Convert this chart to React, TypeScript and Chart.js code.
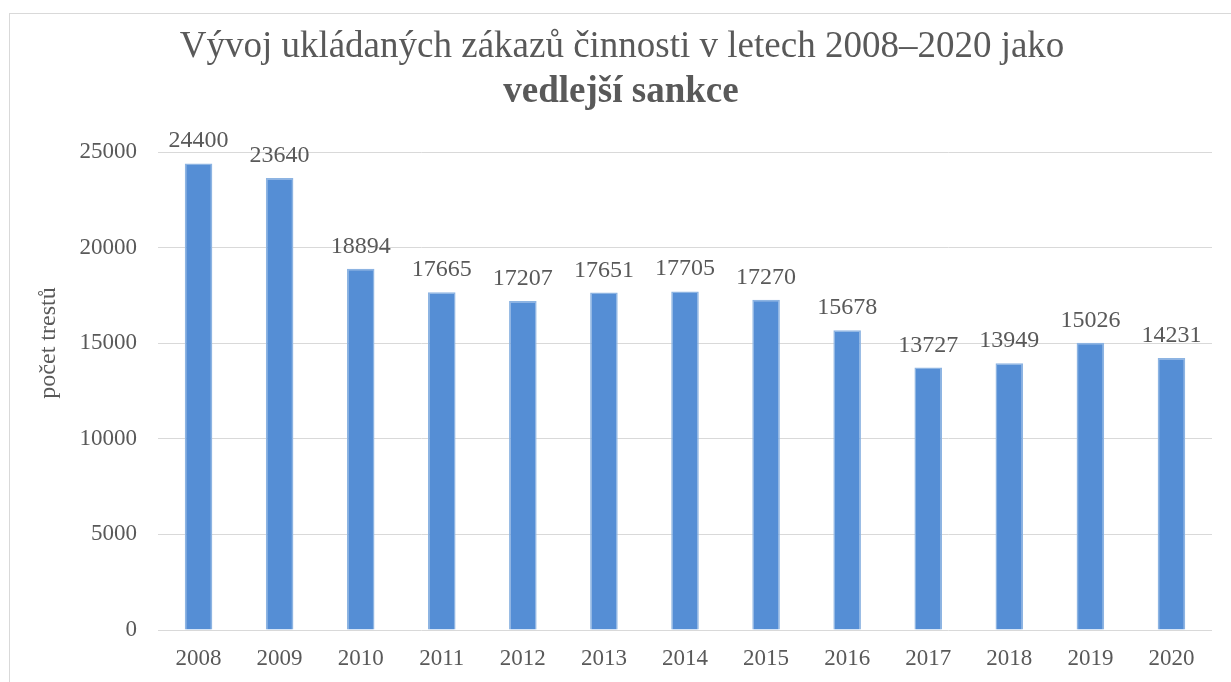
import React, { useEffect, useRef } from "react";
import { Chart, registerables } from "chart.js";

Chart.register(...registerables);

const years = ["2008", "2009", "2010", "2011", "2012", "2013", "2014", "2015", "2016", "2017", "2018", "2019", "2020"];
const values = [24400, 23640, 18894, 17665, 17207, 17651, 17705, 17270, 15678, 13727, 13949, 15026, 14231];
const yTicks = [0, 5000, 10000, 15000, 20000, 25000];
const titleLine1 = "Vývoj ukládaných zákazů činnosti v letech 2008–2020 jako";
const titleLine2 = "vedlejší sankce";
const yTitle = "počet trestů";

const FONT = "'Liberation Serif', 'Times New Roman', serif";
const TEXT = "#595959";
const GRID = "#d9d9d9";

const decorPlugin = {
  id: "decor",
  beforeDraw(chart: any) {
    const ctx = chart.ctx;
    ctx.save();
    ctx.fillStyle = "#ffffff";
    ctx.fillRect(0, 0, chart.width, chart.height);
    ctx.strokeStyle = GRID;
    ctx.lineWidth = 1;
    ctx.strokeRect(9.5, 13.5, chart.width + 20, chart.height + 20);
    ctx.restore();
  },
  afterDraw(chart: any) {
    const ctx = chart.ctx;
    ctx.save();
    ctx.fillStyle = TEXT;
    ctx.textAlign = "center";
    ctx.textBaseline = "alphabetic";
    ctx.font = `37px ${FONT}`;
    ctx.fillText(titleLine1, 622, 57);
    ctx.font = `bold 37px ${FONT}`;
    ctx.fillText(titleLine2, 621, 102);

    ctx.translate(49, 343);
    ctx.rotate(-Math.PI / 2);
    ctx.textBaseline = "middle";
    ctx.font = `24px ${FONT}`;
    ctx.fillText(yTitle, 0, 0);
    ctx.restore();
  },
  afterDatasetsDraw(chart: any) {
    const ctx = chart.ctx;
    const meta = chart.getDatasetMeta(0);
    ctx.save();
    ctx.fillStyle = TEXT;
    ctx.textAlign = "center";
    ctx.textBaseline = "alphabetic";
    ctx.font = `24px ${FONT}`;
    meta.data.forEach((bar: any, i: number) => {
      ctx.fillText(String(values[i]), bar.x, bar.y - 16);
    });
    ctx.restore();
  },
};

export default function App() {
  const ref = useRef<HTMLCanvasElement | null>(null);

  useEffect(() => {
    if (!ref.current) return;
    const chart = new Chart(ref.current, {
      type: "bar",
      data: {
        labels: years,
        datasets: [
          {
            data: values,
            backgroundColor: "#558ED5",
            borderColor: "#8DB4E2",
            borderWidth: 1.5,
            barPercentage: 0.34,
            categoryPercentage: 1,
          },
        ],
      },
      options: {
        animation: false,
        responsive: true,
        maintainAspectRatio: false,
        layout: { padding: { top: 152, right: 19, bottom: 0, left: 0 } },
        plugins: {
          legend: { display: false },
          title: { display: false },
          tooltip: { enabled: false },
        },
        scales: {
          x: {
            grid: { display: false, drawTicks: false },
            border: { display: false },
            ticks: { color: TEXT, font: { family: FONT, size: 23 }, padding: 15, maxRotation: 0 },
            afterFit: (scale: any) => {
              scale.height = 52;
            },
          },
          y: {
            min: 0,
            max: 25000,
            afterBuildTicks: (scale: any) => {
              scale.ticks = yTicks.map((v) => ({ value: v }));
            },
            grid: { color: GRID, lineWidth: 1, drawTicks: false },
            border: { display: false },
            ticks: {
              color: TEXT,
              font: { family: FONT, size: 23 },
              padding: 21,
              callback: (v: any) => String(v),
            },
            afterFit: (scale: any) => {
              scale.width = 158;
            },
          },
        },
      },
      plugins: [decorPlugin],
    });
    return () => chart.destroy();
  }, []);

  return (
    <div style={{ position: "fixed", left: 0, top: 0, width: 1231, height: 682 }}>
      <canvas ref={ref} />
    </div>
  );
}
